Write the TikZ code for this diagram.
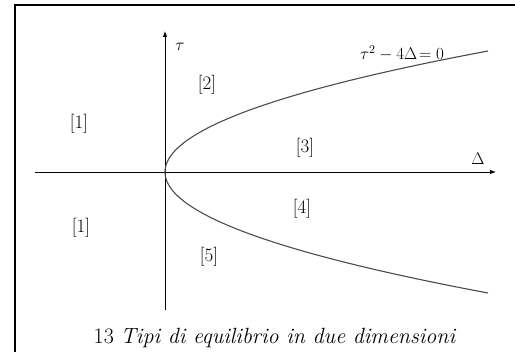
\documentclass[tikz,border=0pt]{standalone}
\usepackage{fix-cm}
\usetikzlibrary{arrows.meta}
\begin{document}
\begin{tikzpicture}[x=1pt,y=-1pt,
  axis/.style={line width=0.9pt,-{Latex[length=6pt,width=4.5pt]}},
  curve/.style={line width=1.1pt,draw=black!70},
  frame/.style={line width=2pt},
  lab/.style={font=\fontsize{19}{22}\selectfont,inner sep=0pt},
  mlab/.style={font=\fontsize{17}{20}\selectfont,inner sep=0pt},
  captext/.style={font=\fontsize{22}{26}\selectfont,inner sep=0pt}]
\useasboundingbox (0,0) rectangle (515,352);
% frame (top and left edges visible)
\coordinate (fl) at (15,352);
\coordinate (ftl) at (15,5);
\coordinate (fr) at (515,5);
\draw[frame] (fl) -- (ftl) -- (fr);
% axes
\coordinate (xs) at (35,172);
\coordinate (xe) at (496,172);
\coordinate (ys) at (165,310);
\coordinate (ye) at (165,31);
\draw[axis] (xs) -- (xe);
\draw[axis] (ys) -- (ye);
% parabola tau^2 - 4 Delta = 0
\draw[curve] plot[domain=-121:121,samples=120,smooth] ({165+0.02206*\x*\x},{172+\x});
% labels
\node[mlab] (tau) at (180,47) {$\tau$};
\node[mlab] (delta) at (478,159) {$\Delta$};
\node[mlab] (eq) at (402,53) {$\tau^2-4\Delta\!=0$};
\node[lab] (r1a) at (79,124) {[1]};
\node[lab] (r1b) at (81,228) {[1]};
\node[lab] (r2) at (207,85) {[2]};
\node[lab] (r3) at (305,148) {[3]};
\node[lab] (r4) at (302,209) {[4]};
\node[lab] (r5) at (209,257) {[5]};
\node[captext,anchor=base] (caption) at (275,344) {13 \textit{Tipi di equilibrio in due dimensioni}};
\end{tikzpicture}
\end{document}
